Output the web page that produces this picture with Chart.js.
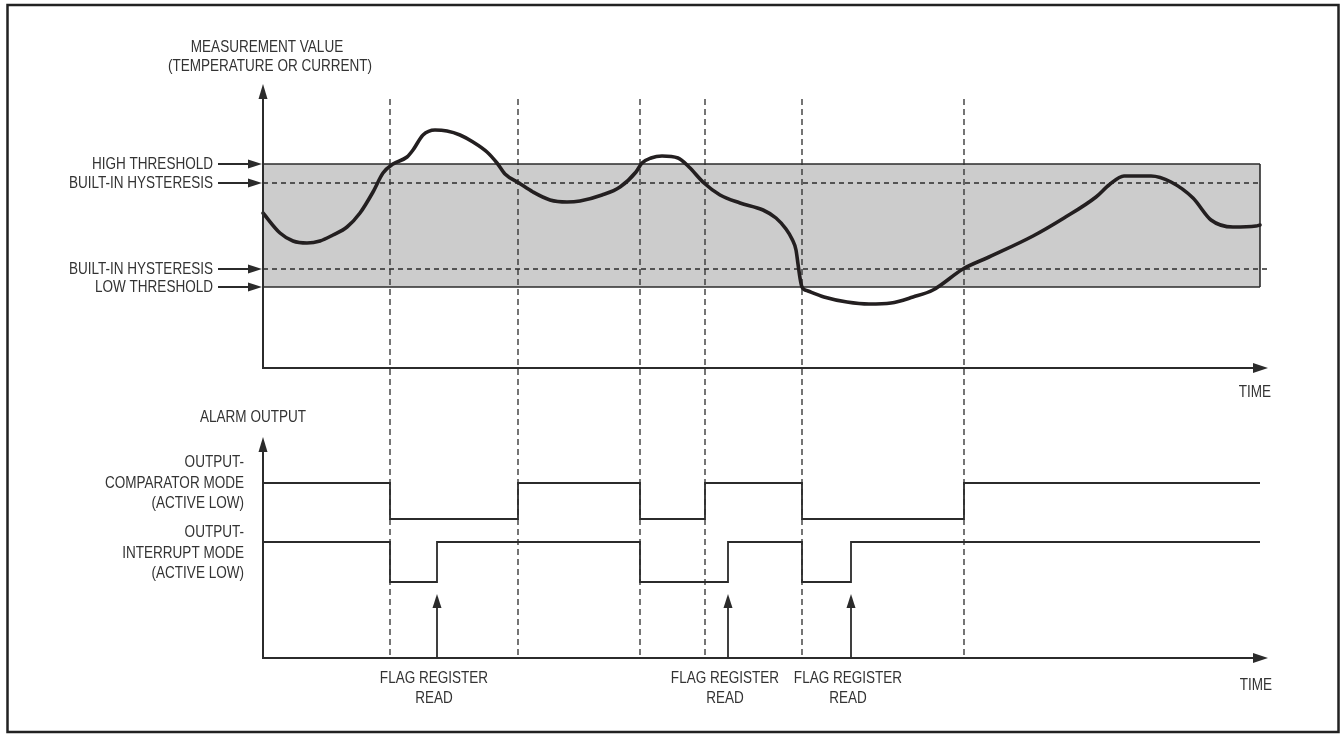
<!DOCTYPE html>
<html>
<head>
<meta charset="utf-8">
<script src="https://cdn.jsdelivr.net/npm/chart.js@4/dist/chart.umd.min.js"></script>
<style>
html,body{margin:0;padding:0;background:#fff;}
canvas{display:block;}
</style>
</head>
<body>
<canvas id="c" width="1343" height="735"></canvas>
<script>
// ---------------- DATA (time units along the TIME axis, measurement units on the value axis) -------------
const curveTime  = [0,17,30,44,57,70,84,97,110,120,130,144,150,160,172,184,197,210,224,234,242,256,270,287,304,317,
                    339,357,373,379,388,399,415,426,441,457,477,500,513,523,529,533,535,537,539,545,561,584,606,628,650,670,700,726,
                    770,801,833,846,861,888,908,930,948,970,993,997];
const curveValue = [155,135,127,125,127,133,141,155,176,195,204,211,218,233,238,237,233,226,216,205,194,185,176,168,166,167,
                    173,181,196,205,210,212,210,201,185,173,165,158,150,139,129,118,104,90,81,77,71,66,64,65,71,78,99,111,
                    132,150,171,183,192,192,186,170,148,141,142,143];

const thresholdLabels = ['HIGH THRESHOLD', 'BUILT-IN HYSTERESIS', 'BUILT-IN HYSTERESIS', 'LOW THRESHOLD'];
const thresholdValues = [204, 185, 99, 81];

const eventTimes = [127, 255, 377, 442, 539, 701];   // dashed vertical markers
const readTimes  = [174, 465, 588];                   // FLAG REGISTER READ instants

const compTimes  = [0, 127, 255, 377, 442, 539, 701, 997];
const compLevels = [1, 0, 1, 0, 1, 0, 1, 1];
const intTimes   = [0, 127, 174, 377, 465, 539, 588, 997];
const intLevels  = [1, 0, 1, 0, 1, 0, 1, 1];

const timeEnd = 997;     // end of plotted window
const axisEnd = 1005;    // end of time axis (arrow tip)

// ---------------- LAYOUT (value-axis units) -------------
const L = {
  topAxis: 0, topArrow: 284,
  alarmAxis: -290, alarmArrow: -69,
  eventTop: 269, readTip: -226
};

const INK = '#2b2b2b';
const TXT = '#333333';
const FONT = '16.5px "Liberation Sans", Arial, sans-serif';

function pts(xs, ys) { return xs.map((x, i) => ({x: x, y: ys[i]})); }

// events as one dataset with gaps
const eventPts = [];
eventTimes.forEach(t => {
  eventPts.push({x: t, y: L.eventTop});
  eventPts.push({x: t, y: L.alarmAxis});
  eventPts.push({x: t, y: null});
});

const datasets = [
  { label: 'HIGH THRESHOLD', data: [{x: 0, y: thresholdValues[0]}, {x: timeEnd, y: thresholdValues[0]}],
    fill: '+1', backgroundColor: '#cccccc', borderColor: INK, borderWidth: 1.6, order: 10, yAxisID: 'y' },
  { label: 'LOW THRESHOLD', data: [{x: 0, y: thresholdValues[3]}, {x: timeEnd, y: thresholdValues[3]}],
    fill: false, borderColor: INK, borderWidth: 1.6, order: 9, yAxisID: 'y' },
  { label: 'band edge', data: [{x: timeEnd, y: thresholdValues[3]}, {x: timeEnd, y: thresholdValues[0]}],
    fill: false, borderColor: INK, borderWidth: 1.6, order: 9, yAxisID: 'y' },
  { label: 'upper hysteresis', data: [{x: 0, y: thresholdValues[1]}, {x: timeEnd, y: thresholdValues[1]}],
    fill: false, borderColor: INK, borderWidth: 1.3, borderDash: [5, 4], order: 8, yAxisID: 'y' },
  { label: 'lower hysteresis', data: [{x: 0, y: thresholdValues[2]}, {x: axisEnd, y: thresholdValues[2]}],
    fill: false, borderColor: INK, borderWidth: 1.3, borderDash: [5, 4], order: 8, yAxisID: 'y' },
  { label: 'events', data: eventPts, spanGaps: false,
    fill: false, borderColor: INK, borderWidth: 1.3, borderDash: [6, 4], order: 7, yAxisID: 'y' },
  { label: 'comparator', data: pts(compTimes, compLevels), stepped: 'before',
    fill: false, borderColor: INK, borderWidth: 1.8, order: 2, yAxisID: 'yc' },
  { label: 'interrupt', data: pts(intTimes, intLevels), stepped: 'before',
    fill: false, borderColor: INK, borderWidth: 1.8, order: 2, yAxisID: 'yi' },
  { label: 'measurement', data: pts(curveTime, curveValue), cubicInterpolationMode: 'monotone',
    fill: false, borderColor: '#231f20', borderWidth: 3.6, borderCapStyle: 'round', borderJoinStyle: 'round',
    order: 0, yAxisID: 'y' }
];
datasets.forEach(d => { d.pointRadius = 0; d.pointHoverRadius = 0; d.clip = false; });

function txt(ctx, s, x, y, align) {
  ctx.save();
  ctx.translate(x, y);
  ctx.scale(0.82, 1);
  ctx.textAlign = align;
  ctx.textBaseline = 'middle';
  ctx.fillText(s, 0, 0);
  ctx.restore();
}
function arrowHead(ctx, tx, ty, dir, len, half) {
  ctx.beginPath();
  if (dir === 'up') { ctx.moveTo(tx, ty); ctx.lineTo(tx - half, ty + len); ctx.lineTo(tx + half, ty + len); }
  else if (dir === 'right') { ctx.moveTo(tx, ty); ctx.lineTo(tx - len, ty - half); ctx.lineTo(tx - len, ty + half); }
  ctx.closePath();
  ctx.fill();
}
function line(ctx, x1, y1, x2, y2, w) {
  ctx.beginPath(); ctx.lineWidth = w; ctx.moveTo(x1, y1); ctx.lineTo(x2, y2); ctx.stroke();
}

const decor = {
  id: 'decor',
  beforeDraw(chart) {
    const ctx = chart.ctx;
    ctx.save();
    ctx.fillStyle = '#fff';
    ctx.fillRect(0, 0, chart.width, chart.height);
    ctx.restore();
  },
  afterDraw(chart) {
    const ctx = chart.ctx;
    const xs = chart.scales.x, ys = chart.scales.y, yc = chart.scales.yc, yi = chart.scales.yi;
    const X = v => xs.getPixelForValue(v), Y = v => ys.getPixelForValue(v);
    const x0 = X(0), xEnd = X(axisEnd);
    ctx.save();
    ctx.strokeStyle = INK; ctx.fillStyle = INK; ctx.lineCap = 'butt';

    // axes with arrows
    line(ctx, x0, Y(L.topAxis), x0, Y(L.topArrow) + 12, 2);
    arrowHead(ctx, x0, Y(L.topArrow), 'up', 15, 4.5);
    line(ctx, x0 - 1, Y(L.topAxis), xEnd - 12, Y(L.topAxis), 2);
    arrowHead(ctx, xEnd, Y(L.topAxis), 'right', 15, 5);
    line(ctx, x0, Y(L.alarmAxis), x0, Y(L.alarmArrow) + 12, 2);
    arrowHead(ctx, x0, Y(L.alarmArrow), 'up', 15, 4.5);
    line(ctx, x0 - 1, Y(L.alarmAxis), xEnd - 12, Y(L.alarmAxis), 2);
    arrowHead(ctx, xEnd, Y(L.alarmAxis), 'right', 15, 5);

    // threshold label arrows
    ctx.font = FONT;
    thresholdValues.forEach((v, i) => {
      const py = Y(v);
      line(ctx, x0 - 45, py, x0 - 12, py, 1.8);
      arrowHead(ctx, x0 - 1, py, 'right', 14, 4.5);
    });

    // flag register read arrows
    readTimes.forEach(t => {
      const px = X(t);
      line(ctx, px, Y(L.alarmAxis), px, Y(L.readTip) + 12, 1.8);
      arrowHead(ctx, px, Y(L.readTip), 'up', 14, 4.5);
    });

    // texts
    ctx.fillStyle = TXT;
    ctx.font = FONT;
    txt(ctx, 'MEASUREMENT VALUE', 267, 47, 'center');
    txt(ctx, '(TEMPERATURE OR CURRENT)', 270, 66, 'center');
    thresholdValues.forEach((v, i) => txt(ctx, thresholdLabels[i], x0 - 50, Y(v), 'right'));
    txt(ctx, 'TIME', xEnd + 3, Y(L.topAxis) + 24, 'right');
    txt(ctx, 'TIME', xEnd + 4, Y(L.alarmAxis) + 27, 'right');
    txt(ctx, 'ALARM OUTPUT', 253, 417, 'center');

    const ch = yc.getPixelForValue(1), ih = yi.getPixelForValue(1);
    txt(ctx, 'OUTPUT-', x0 - 19, ch - 21, 'right');
    txt(ctx, 'COMPARATOR MODE', x0 - 19, ch, 'right');
    txt(ctx, '(ACTIVE LOW)', x0 - 19, ch + 20, 'right');
    txt(ctx, 'OUTPUT-', x0 - 19, ih - 10, 'right');
    txt(ctx, 'INTERRUPT MODE', x0 - 19, ih + 11, 'right');
    txt(ctx, '(ACTIVE LOW)', x0 - 19, ih + 31, 'right');

    readTimes.forEach(t => {
      const px = X(t) - 3;
      txt(ctx, 'FLAG REGISTER', px, Y(L.alarmAxis) + 20, 'center');
      txt(ctx, 'READ', px, Y(L.alarmAxis) + 40, 'center');
    });

    // outer frame
    ctx.strokeStyle = '#222';
    ctx.lineWidth = 2.5;
    ctx.strokeRect(7.5, 5, 1331, 727);
    ctx.restore();
  }
};

new Chart(document.getElementById('c'), {
  type: 'line',
  data: { datasets: datasets },
  options: {
    responsive: false,
    animation: false,
    events: [],
    parsing: true,
    layout: { autoPadding: false, padding: { left: 263, right: 75, top: 84, bottom: 77 } },
    plugins: { legend: { display: false }, tooltip: { enabled: false }, title: { display: false } },
    scales: {
      x:  { type: 'linear', min: 0, max: axisEnd, display: false },
      y:  { type: 'linear', min: -290, max: 284, display: false },
      yc: { type: 'linear', min: -3.861, max: 12.083, display: false },
      yi: { type: 'linear', min: -1.9, max: 12.45, display: false }
    }
  },
  plugins: [decor]
});
</script>
</body>
</html>
